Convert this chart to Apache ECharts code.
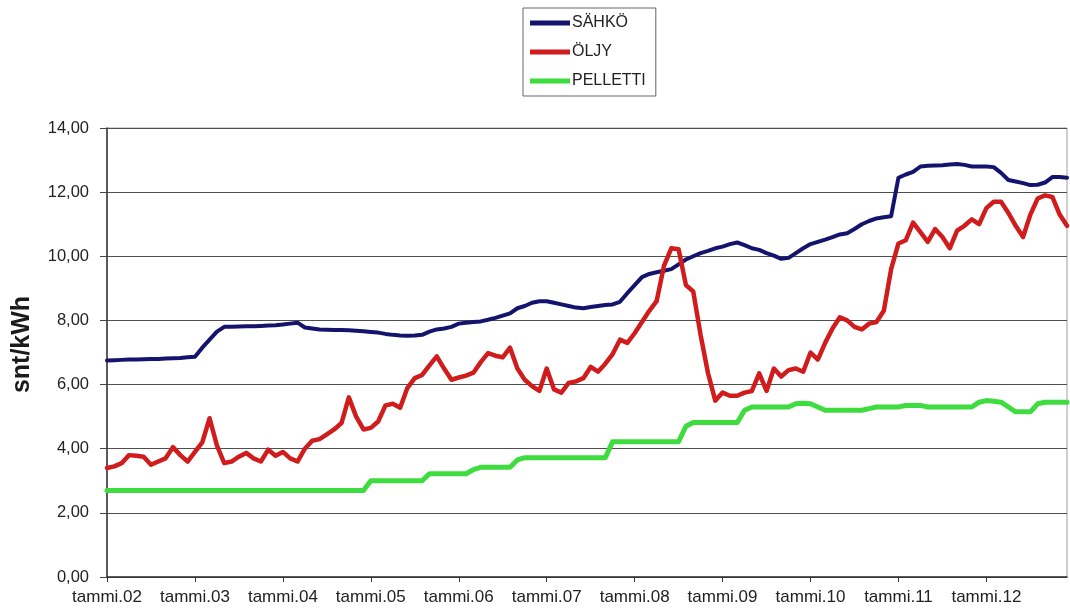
<!DOCTYPE html>
<html>
<head>
<meta charset="utf-8">
<title>Energian hinta</title>
<script src="https://cdn.jsdelivr.net/npm/echarts@6/dist/echarts.min.js"></script>
<style>
  html, body { margin: 0; padding: 0; background: #ffffff; }
  #chart { width: 1070px; height: 610px; }
</style>
</head>
<body>
<div id="chart"></div>
<script>
// Monthly price, snt/kWh, January 2002 - December 2012
const years = ['02', '03', '04', '05', '06', '07', '08', '09', '10', '11', '12'];
const monthNames = ['tammi', 'helmi', 'maalis', 'huhti', 'touko', 'kesä',
                    'heinä', 'elo', 'syys', 'loka', 'marras', 'joulu'];

const sahko = [
  6.75, 6.76, 6.77, 6.78, 6.78, 6.79, 6.80, 6.80, 6.81, 6.82, 6.83, 6.85,
  6.87, 7.15, 7.40, 7.65, 7.80, 7.80, 7.81, 7.82, 7.82, 7.83, 7.84, 7.85,
  7.87, 7.90, 7.93, 7.78, 7.75, 7.72, 7.71, 7.70, 7.70, 7.69, 7.68, 7.66,
  7.64, 7.62, 7.58, 7.55, 7.53, 7.52, 7.53, 7.55, 7.65, 7.72, 7.75, 7.80,
  7.90, 7.93, 7.95, 7.97, 8.02, 8.08, 8.15, 8.22, 8.38, 8.45, 8.55, 8.60,
  8.60, 8.55, 8.50, 8.45, 8.40, 8.38, 8.42, 8.45, 8.48, 8.50, 8.58, 8.85,
  9.10, 9.35, 9.45, 9.50, 9.55, 9.60, 9.75, 9.90, 10.00, 10.10, 10.17, 10.25,
  10.30, 10.38, 10.43, 10.35, 10.25, 10.20, 10.10, 10.02, 9.92, 9.95, 10.10, 10.25,
  10.38, 10.45, 10.52, 10.60, 10.68, 10.72, 10.85, 11.00, 11.10, 11.18, 11.22, 11.25,
  12.45, 12.55, 12.63, 12.80, 12.82, 12.83, 12.84, 12.86, 12.88, 12.85, 12.80, 12.80,
  12.80, 12.78, 12.60, 12.38, 12.33, 12.28, 12.22, 12.23, 12.30, 12.47, 12.47, 12.45
];

const oljy = [
  3.40, 3.45, 3.55, 3.80, 3.78, 3.75, 3.50, 3.60, 3.70, 4.05, 3.80, 3.60,
  3.90, 4.20, 4.95, 4.10, 3.55, 3.60, 3.75, 3.87, 3.70, 3.60, 3.97, 3.78,
  3.90, 3.70, 3.60, 4.00, 4.25, 4.30, 4.45, 4.60, 4.80, 5.60, 5.00, 4.60,
  4.65, 4.85, 5.35, 5.40, 5.28, 5.90, 6.20, 6.30, 6.60, 6.88, 6.50, 6.15,
  6.22, 6.28, 6.37, 6.70, 6.98, 6.90, 6.85, 7.15, 6.50, 6.15, 5.95, 5.80,
  6.50, 5.85, 5.75, 6.05, 6.10, 6.20, 6.55, 6.40, 6.65, 6.95, 7.40, 7.30,
  7.60, 7.95, 8.30, 8.60, 9.70, 10.25, 10.22, 9.10, 8.90, 7.55, 6.37, 5.50,
  5.75, 5.65, 5.65, 5.75, 5.80, 6.35, 5.80, 6.50, 6.25, 6.45, 6.50, 6.40,
  7.00, 6.78, 7.30, 7.75, 8.10, 8.00, 7.80, 7.72, 7.90, 7.95, 8.30, 9.60,
  10.40, 10.50, 11.05, 10.75, 10.45, 10.85, 10.60, 10.25, 10.80, 10.95, 11.15, 11.00,
  11.50, 11.70, 11.70, 11.35, 10.95, 10.60, 11.30, 11.80, 11.90, 11.85, 11.30, 10.95
];

const pelletti = [
  2.70, 2.70, 2.70, 2.70, 2.70, 2.70, 2.70, 2.70, 2.70, 2.70, 2.70, 2.70,
  2.70, 2.70, 2.70, 2.70, 2.70, 2.70, 2.70, 2.70, 2.70, 2.70, 2.70, 2.70,
  2.70, 2.70, 2.70, 2.70, 2.70, 2.70, 2.70, 2.70, 2.70, 2.70, 2.70, 2.70,
  3.00, 3.00, 3.00, 3.00, 3.00, 3.00, 3.00, 3.00, 3.22, 3.22, 3.22, 3.22,
  3.22, 3.22, 3.35, 3.42, 3.42, 3.42, 3.42, 3.42, 3.65, 3.72, 3.72, 3.72,
  3.72, 3.72, 3.72, 3.72, 3.72, 3.72, 3.72, 3.72, 3.72, 4.22, 4.22, 4.22,
  4.22, 4.22, 4.22, 4.22, 4.22, 4.22, 4.22, 4.70, 4.82, 4.82, 4.82, 4.82,
  4.82, 4.82, 4.82, 5.20, 5.30, 5.30, 5.30, 5.30, 5.30, 5.30, 5.40, 5.42,
  5.40, 5.30, 5.20, 5.20, 5.20, 5.20, 5.20, 5.20, 5.25, 5.30, 5.30, 5.30,
  5.30, 5.35, 5.35, 5.35, 5.30, 5.30, 5.30, 5.30, 5.30, 5.30, 5.30, 5.45,
  5.50, 5.48, 5.45, 5.30, 5.15, 5.15, 5.15, 5.40, 5.45, 5.45, 5.45, 5.45
];

const yTicks = { min: 0, max: 14, interval: 2 };

// category names such as "tammi.02", "helmi.02", ...
const categories = [];
years.forEach(y => monthNames.forEach(m => categories.push(m + '.' + y)));

const font = 'Liberation Sans, Arial, sans-serif';
const chart = echarts.init(document.getElementById('chart'), null, { renderer: 'canvas' });

function lineSeries(name, data, color, width) {
  return {
    name: name,
    type: 'line',
    data: data,
    symbol: 'none',
    showSymbol: false,
    smooth: false,
    lineStyle: { color: color, width: width, cap: 'round', join: 'round' },
    itemStyle: { color: color },
    emphasis: { disabled: true }
  };
}

chart.setOption({
  animation: false,
  backgroundColor: '#ffffff',
  textStyle: { fontFamily: font },
  grid: {
    left: 107, right: 3, top: 128, bottom: 33,
    show: true, borderColor: '#a0a0a0', borderWidth: 1, backgroundColor: 'transparent'
  },
  legend: {
    orient: 'vertical',
    left: 523, top: 8,
    padding: [7, 10, 7, 7],
    itemGap: 13,
    itemWidth: 40, itemHeight: 5,
    icon: 'rect',
    borderColor: '#666666', borderWidth: 1,
    backgroundColor: '#ffffff',
    textStyle: { fontFamily: font, fontSize: 16, color: '#222222', padding: [0, 0, 0, -3] },
    data: ['SÄHKÖ', 'ÖLJY', 'PELLETTI']
  },
  xAxis: {
    type: 'category',
    data: categories,
    boundaryGap: false,
    axisLine: { lineStyle: { color: '#333333', width: 1.5 } },
    axisTick: { show: true, interval: 11, length: 5, lineStyle: { color: '#333333' } },
    axisLabel: { interval: 11, margin: 12, fontSize: 17, color: '#222222', fontFamily: font },
    splitLine: { show: false }
  },
  yAxis: {
    type: 'value',
    min: yTicks.min, max: yTicks.max, interval: yTicks.interval,
    name: 'snt/kWh',
    nameLocation: 'middle',
    nameGap: 72,
    nameRotate: 90,
    nameTextStyle: {
      fontFamily: font, fontSize: 25, fontWeight: 'bold', color: '#1a1a1a',
      padding: [0, 0, 0, 16]
    },
    axisLine: { show: true, lineStyle: { color: '#333333', width: 1.5 } },
    axisTick: { show: true, length: 7, lineStyle: { color: '#444444' } },
    axisLabel: {
      margin: 18, fontSize: 16.5, color: '#222222', fontFamily: font,
      formatter: v => v.toFixed(2).replace('.', ',')
    },
    splitLine: { show: true, lineStyle: { color: '#4f4f4f', width: 1 } }
  },
  series: [
    lineSeries('SÄHKÖ', sahko, '#14146e', 4),
    lineSeries('ÖLJY', oljy, '#d01c1c', 4.5),
    lineSeries('PELLETTI', pelletti, '#3fdc3f', 5)
  ]
});
</script>
</body>
</html>
